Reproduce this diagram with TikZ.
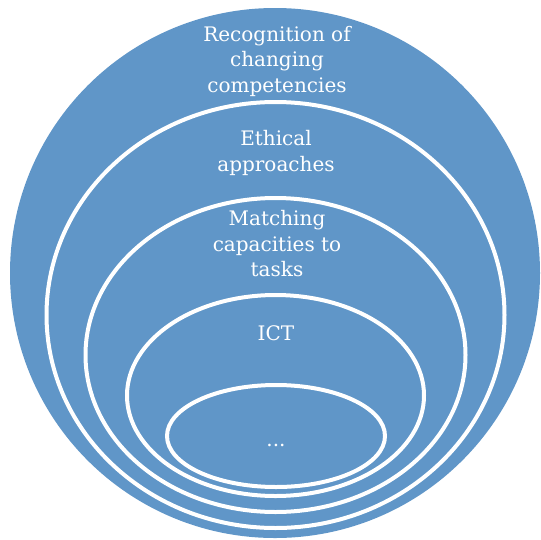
\documentclass[tikz,border=0pt]{standalone}
\usepackage{fontspec}
\setmainfont{DejaVu Serif}
\usetikzlibrary{positioning}

\definecolor{ringblue}{RGB}{96,150,200}

\begin{document}
\begin{tikzpicture}[x = 1pt, y = -1pt,
    ring/.style = {draw = white, line width = 4pt},
    label/.style = {text = white, align = center, font = \fontsize{20}{25.5}\selectfont}]

        \useasboundingbox (0, 0) rectangle (541, 539);

        % Centres of the disc and of the nested rings.
        \coordinate (O) at (275, 273);
        \coordinate (R1) at (275.5, 315);
        \coordinate (R2) at (275.5, 355);
        \coordinate (R3) at (275.5, 395.5);
        \coordinate (R4) at (276, 436);

        % The filled disc.
        \fill[ringblue] (O) circle (265pt);

        % The white rings, from the outside in.
        \draw[ring] (R1) ellipse [x radius = 229pt, y radius = 213pt];
        \draw[ring] (R2) ellipse [x radius = 190pt, y radius = 157pt];
        \draw[ring] (R3) ellipse [x radius = 148.5pt, y radius = 100.5pt];
        \draw[ring] (R4) ellipse [x radius = 109pt, y radius = 51pt];

        % Labels of the levels.
        \node[label] (recog) at (277, 61) {Recognition of\\changing\\competencies};
        \node[label] (ethic) at (276, 153) {Ethical\\approaches};
        \node[label] (match) at (277, 244) {Matching\\capacities to\\tasks};
        \node[label] (ict) at (276, 333) {ICT};
        \node[label, anchor = base] (more) at (276, 446) {...};
    \end{tikzpicture}
\end{document}
